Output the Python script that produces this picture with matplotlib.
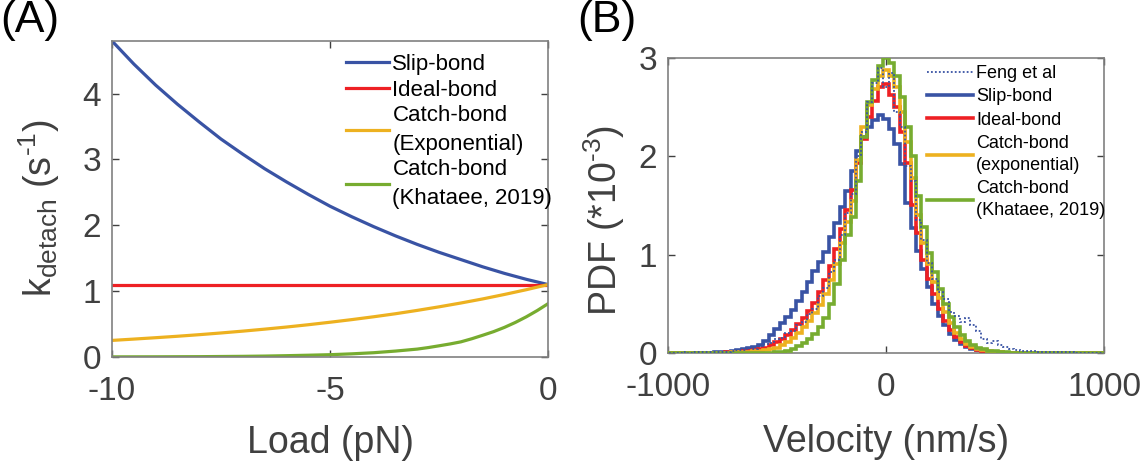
import numpy as np
import matplotlib
matplotlib.use("Agg")
import matplotlib.pyplot as plt
from matplotlib.lines import Line2D

plt.rcParams['font.family'] = ['Liberation Sans', 'DejaVu Sans']
plt.rcParams['mathtext.fontset'] = 'custom'
plt.rcParams['mathtext.rm'] = 'Liberation Sans'
plt.rcParams['mathtext.it'] = 'Liberation Sans'
plt.rcParams['axes.unicode_minus'] = False

# ---- panel A: detachment rate vs load ----
load = [-10, -9.5, -9, -8.5, -8, -7.5, -7, -6.5, -6, -5.5, -5,
        -4.5, -4, -3.5, -3, -2.5, -2, -1.5, -1, -0.5, 0]
k_slip = [4.80, 4.45, 4.13, 3.84, 3.57, 3.31, 3.08, 2.86, 2.66, 2.47, 2.29,
          2.13, 1.98, 1.84, 1.71, 1.59, 1.48, 1.37, 1.27, 1.18, 1.10]
k_ideal = [1.10] * 21
k_catch_exp = [0.252, 0.272, 0.293, 0.315, 0.339, 0.365, 0.393, 0.423, 0.455, 0.490, 0.528,
               0.568, 0.611, 0.657, 0.708, 0.762, 0.820, 0.882, 0.950, 1.022, 1.10]
load_kh = [-10, -9, -8, -7, -6.5, -6, -5.5, -5, -4.5, -4, -3.5, -3, -2.75, -2.5,
           -2.25, -2, -1.75, -1.5, -1.25, -1, -0.75, -0.5, -0.25, 0]
k_catch_kh = [0.002, 0.003, 0.005, 0.010, 0.014, 0.020, 0.027, 0.035, 0.048, 0.065,
              0.090, 0.120, 0.143, 0.170, 0.198, 0.230, 0.277, 0.330, 0.385, 0.450,
              0.525, 0.610, 0.705, 0.81]

# ---- panel B: velocity histograms (PDF *1e-3), bins of 25 nm/s ----
# values for bin centres -800 ... 600
pdf_slip = [0.0, 0.005, 0.01, 0.015, 0.02, 0.03, 0.04, 0.05, 0.065, 0.08,
            0.12, 0.18, 0.24, 0.30, 0.37, 0.44, 0.53, 0.62, 0.72, 0.83,
            0.93, 1.03, 1.18, 1.32, 1.48, 1.65, 1.85, 2.05, 2.20, 2.30,
            2.37, 2.42, 2.38, 2.28, 2.12, 1.92, 1.53, 1.27, 1.04, 0.85,
            0.67, 0.50, 0.38, 0.28, 0.19, 0.13, 0.09, 0.06, 0.04, 0.03,
            0.02, 0.015, 0.01, 0.005, 0.003, 0.002, 0.0]
pdf_ideal = [0.0, 0.002, 0.004, 0.006, 0.01, 0.013, 0.017, 0.022, 0.03, 0.04,
             0.055, 0.08, 0.11, 0.14, 0.18, 0.23, 0.29, 0.36, 0.43, 0.51,
             0.62, 0.74, 0.88, 1.06, 1.26, 1.45, 1.66, 1.93, 2.18, 2.40,
             2.56, 2.70, 2.74, 2.62, 2.50, 2.25, 1.93, 1.50, 1.22, 0.95,
             0.75, 0.60, 0.45, 0.33, 0.23, 0.16, 0.11, 0.07, 0.05, 0.035,
             0.025, 0.015, 0.01, 0.006, 0.003, 0.001, 0.0]
pdf_catch_exp = [0.0, 0.001, 0.002, 0.003, 0.005, 0.007, 0.01, 0.013, 0.017, 0.022,
                 0.03, 0.04, 0.055, 0.08, 0.11, 0.15, 0.20, 0.26, 0.33, 0.41,
                 0.49, 0.60, 0.74, 0.90, 1.12, 1.33, 1.55, 1.96, 2.30, 2.52,
                 2.68, 2.82, 2.88, 2.82, 2.70, 2.45, 2.15, 1.78, 1.40, 1.12,
                 0.90, 0.72, 0.56, 0.42, 0.30, 0.20, 0.14, 0.09, 0.06, 0.04,
                 0.028, 0.018, 0.012, 0.007, 0.004, 0.002, 0.0]
pdf_catch_kh = [0.0, 0.0, 0.0, 0.0, 0.0, 0.0, 0.0, 0.0, 0.0, 0.0,
                0.002, 0.004, 0.008, 0.015, 0.025, 0.045, 0.07, 0.10, 0.14, 0.19,
                0.26, 0.36, 0.50, 0.70, 0.95, 1.20, 1.38, 1.75, 2.20, 2.55,
                2.78, 2.92, 3.00, 2.95, 2.82, 2.60, 2.30, 2.00, 1.60, 1.28,
                1.02, 0.82, 0.65, 0.50, 0.37, 0.26, 0.18, 0.12, 0.08, 0.055,
                0.038, 0.025, 0.016, 0.01, 0.006, 0.003, 0.001]
pdf_feng = [0.008, 0.01, 0.015, 0.012, 0.02, 0.035, 0.03, 0.05, 0.045, 0.07,
            0.09, 0.10, 0.14, 0.15, 0.20, 0.22, 0.28, 0.32, 0.40, 0.45,
            0.58, 0.66, 0.82, 0.95, 1.20, 1.42, 1.62, 2.00, 2.25, 2.55,
            2.75, 2.90, 2.70, 2.85, 2.45, 2.30, 1.90, 1.75, 1.35, 1.15,
            0.92, 0.75, 0.62, 0.55, 0.42, 0.38, 0.32, 0.36, 0.28, 0.22,
            0.14, 0.10, 0.12, 0.08, 0.06, 0.045, 0.03]
feng_tail_left = [0.0, 0.003, 0.0, 0.005, 0.004, 0.006, 0.005, 0.007]
feng_tail_right = [0.025, 0.02, 0.02, 0.015, 0.01, 0.015, 0.008, 0.01,
                   0.005, 0.006, 0.004, 0.003, 0.002, 0.001, 0.0, 0.0]

edges = np.arange(-1012.5, 1012.6, 25)
n_left, n_right = 8, 16


def pad(vals, left=None, right=None):
    left = [0.0] * n_left if left is None else left
    right = [0.0] * n_right if right is None else right
    return np.array(list(left) + list(vals) + list(right))


c_blue = '#3953a4'
c_red = '#ee2024'
c_orange = '#edb120'
c_green = '#77ac30'
c_tick = '#404040'

fig = plt.figure(figsize=(11.43, 4.61), dpi=100)
axA = fig.add_axes([0.098, 0.2256, 0.3815, 0.6855])
axB = fig.add_axes([0.5844, 0.2343, 0.3815, 0.640])

lw = 2.3
axA.plot(load, k_slip, color=c_blue, lw=lw, label='Slip-bond')
axA.plot(load, k_ideal, color=c_red, lw=lw, label='Ideal-bond')
axA.plot(load, k_catch_exp, color=c_orange, lw=lw, label='Catch-bond\n(Exponential)')
axA.plot(load_kh, k_catch_kh, color=c_green, lw=lw, label='Catch-bond\n(Khataee, 2019)')
axA.set_xlim(-10, 0)
axA.set_ylim(0, 4.8)
axA.set_xticks([-10, -5, 0])
axA.set_yticks([0, 1, 2, 3, 4])
axA.set_xlabel('Load (pN)', fontsize=27, color=c_tick)
axA.set_ylabel(r'k$_{\rm detach}$ (s$^{\text{-}1}$)', fontsize=27, color=c_tick)
legA = axA.legend(loc='upper left', bbox_to_anchor=(0.536, 0.958), frameon=False,
                  fontsize=16, handlelength=1.95, handletextpad=0.15,
                  labelspacing=0.195, borderpad=0, borderaxespad=0)
for t in legA.get_texts():
    t.set_linespacing(1.5)

hs = 2.6
feng_ls = (0, (1, 1.2))
axB.stairs(pad(pdf_feng, feng_tail_left, feng_tail_right), edges, color=c_blue,
           lw=1.3, ls=feng_ls, label='Feng et al', zorder=6)
axB.stairs(pad(pdf_slip), edges, color=c_blue, lw=hs, label='Slip-bond', zorder=2)
axB.stairs(pad(pdf_ideal), edges, color=c_red, lw=hs, label='Ideal-bond', zorder=3)
axB.stairs(pad(pdf_catch_exp), edges, color=c_orange, lw=hs,
           label='Catch-bond\n(exponential)', zorder=4)
axB.stairs(pad(pdf_catch_kh), edges, color=c_green, lw=hs,
           label='Catch-bond\n(Khataee, 2019)', zorder=5)
axB.set_xlim(-1000, 1000)
axB.set_ylim(0, 3)
axB.set_xticks([-1000, 0, 1000])
axB.set_yticks([0, 1, 2, 3])
axB.set_xlabel('Velocity (nm/s)', fontsize=27, color=c_tick)
axB.set_ylabel(r'PDF (*10$^{\text{-}3}$)', fontsize=27, color=c_tick)
hB, lB = axB.get_legend_handles_labels()
proxies = [Line2D([], [], color=c_blue, lw=1.3, ls=feng_ls),
           Line2D([], [], color=c_blue, lw=hs),
           Line2D([], [], color=c_red, lw=hs),
           Line2D([], [], color=c_orange, lw=hs),
           Line2D([], [], color=c_green, lw=hs)]
legB = axB.legend(proxies, lB, loc='upper left', bbox_to_anchor=(0.595, 0.976),
                  frameon=False, fontsize=13, handlelength=2.55, handletextpad=0.15,
                  labelspacing=0.35, borderpad=0, borderaxespad=0)
for t in legB.get_texts():
    t.set_linespacing(1.37)

for ax in (axA, axB):
    for s in ax.spines.values():
        s.set_color('#808080')
        s.set_linewidth(1.2)
    ax.tick_params(direction='in', length=5, width=1, colors='#404040',
                   labelsize=24, top=True, right=True)
    ax.tick_params(axis='x', pad=14)
    ax.tick_params(axis='y', pad=8)

axA.yaxis.set_label_coords(-0.115, 0.47)
axA.xaxis.set_label_coords(0.5, -0.215)
axB.yaxis.set_label_coords(-0.094, 0.45)
axB.xaxis.set_label_coords(0.5, -0.24)

fig.text(0.0, 1.0, '(A)', fontsize=32, ha='left', va='top')
fig.text(0.505, 1.0, '(B)', fontsize=32, ha='left', va='top')

fig.savefig('out.png', dpi=100)
